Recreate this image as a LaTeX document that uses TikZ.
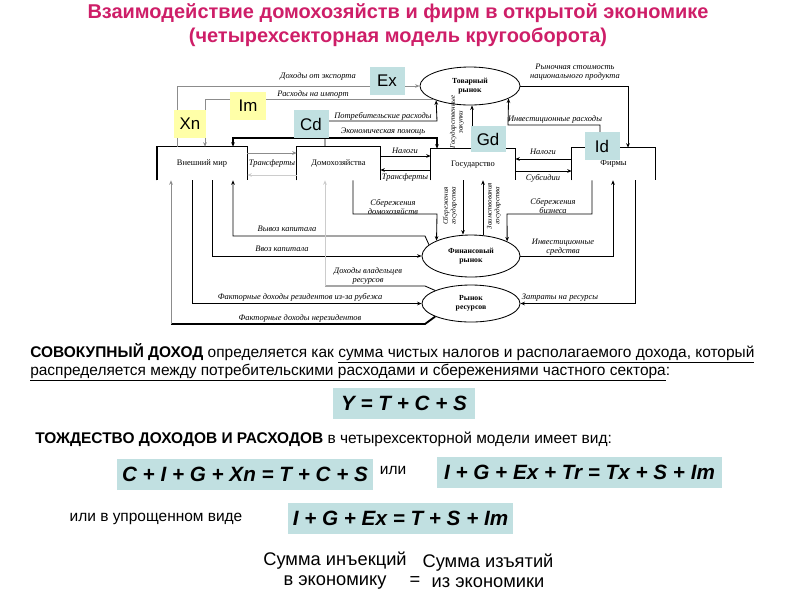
\documentclass[tikz,border=0pt]{standalone}
\usepackage{fontspec}
\setmainfont{Liberation Sans}
\newfontfamily\labelserif{Liberation Serif}
\usetikzlibrary{arrows.meta,shapes.geometric}

\definecolor{titlered}{RGB}{206,30,104}
\definecolor{boxteal}{RGB}{193,224,225}
\definecolor{boxyellow}{RGB}{255,255,168}

\tikzset{
  sector/.style={inner sep=0pt, font=\labelserif\fontsize{6}{7}\selectfont},
  market/.style={ellipse, draw, line width=0.6pt, inner sep=0pt, align=center,
    font=\labelserif\bfseries\fontsize{5.5}{6.5}\selectfont},
  tag/.style={inner sep=0pt, minimum width=0.875cm, minimum height=0.7cm,
    font=\fontsize{12}{14}\selectfont},
  flow/.style={line width=0.6pt, -{Stealth[length=3.2pt,width=2.6pt]}},
  flowgray/.style={flow, draw=black!45},
  flowfaint/.style={flow, draw=black!20},
  lbl/.style={inner sep=0pt, align=center, font=\labelserif\itshape\fontsize{6}{6.5}\selectfont},
  formula/.style={fill=boxteal, inner sep=0pt, minimum height=0.775cm,
    font=\bfseries\itshape\fontsize{14.7}{17}\selectfont},
  body/.style={inner sep=0pt, anchor=base west, font=\fontsize{11}{13}\selectfont},
}

\begin{document}
\begin{tikzpicture}[x=0.025cm, y=-0.025cm]
\useasboundingbox (0,0) rectangle (800,600);

% title
\node[align=center, text=titlered, font=\bfseries\fontsize{14.2}{17}\selectfont] (title) at (398,25)
  {Взаимодействие домохозяйств и фирм в открытой экономике\\(четырехсекторная модель кругооборота)};

% sectors
\node[sector, minimum width=2.25cm, minimum height=0.825cm] (W) at (202,163.5) {Внешний мир};
\node[sector, minimum width=2.075cm, minimum height=0.825cm] (H) at (338.5,163.5) {Домохозяйства};
\node[sector, minimum width=2.1cm, minimum height=0.775cm] (G) at (473,164.5) {Государство};
\node[sector, minimum width=2.075cm, minimum height=0.8cm] (F) at (613.5,164) {Фирмы};
\foreach \s in {W,H,G,F}
  \draw[line width=0.6pt] (\s.south west) |- (\s.north east) -- (\s.south east);
\draw[line width=1.5pt] (W.south west) -- (W.north west);

% markets
\node[market, minimum width=2.5cm, minimum height=0.95cm] (M_g) at (470,86) {Товарный\\рынок};
\node[market, minimum width=2.45cm, minimum height=1.05cm] (M_f) at (471,256) {Финансовый\\рынок};
\node[market, minimum width=2.45cm, minimum height=0.925cm] (M_r) at (471,303.5) {Рынок\\ресурсов};

% columns and rows of the connectors
\foreach \c in {171,177,192,205,212,233,325,353,425,437,463,472,483,507,508,592,600,613,628,635}
  \coordinate (x\c) at (\c,0);
\foreach \r in {121,125,138,153,156,159,170,171,175,214,236,286,324}
  \coordinate (y\r) at (0,\r);

% goods market
\draw[flowgray] (W.north -| x177) |- (M_g.west);
\draw[flowgray] (M_g.200) -| (W.north -| x205);
\draw[flow] (H.north -| x325) |- (x437 |- y121) -- (M_g.203);
\draw[line width=1.3pt, {Stealth[length=3.2pt,width=2.6pt]}-{Stealth[length=3.2pt,width=2.6pt]}]
  (G.north -| x437) -- (x437 |- y138) -| (W.north -| x233);
\draw[flow] (G.north -| x472) -- (M_g.south -| x472);
\draw[flow] (F.north -| x600) |- (x508 |- y125) -- (M_g.342);
\draw[flow] (M_g.east) -| (F.north -| x628);

% between sectors
\draw[flowgray] (W.east |- y153) -- (H.west |- y153);
\draw[flowfaint] (H.west |- y175) -- (W.east |- y175);
\draw[flow] (H.east |- y156) -- (G.west |- y156);
\draw[flow] (G.west |- y170) -- (H.east |- y170);
\draw[flow] (F.west |- y159) -- (G.east |- y159);
\draw[flow] (G.east |- y171) -- (F.west |- y171);

% financial market
\draw[flow] (H.south -| x353) |- (x437 |- y214) -- (M_f.156);
\draw[flow] (G.south -| x463) -- (M_f.north -| x463);
\draw[flow] (M_f.north -| x483) -- (G.south -| x483);
\draw[flow] (F.south -| x592) |- (x507 |- y214) -- (M_f.22);
\draw[flow] (M_f.east) -| (F.south -| x613);
\draw[flow] (M_f.165) -- (x425 |- y236) -| (W.south -| x233);
\draw[flow] (W.south -| x212) |- (M_f.west);

% resource market
\draw[flow] (F.south -| x635) |- (M_r.east);
\draw[flow] (W.south -| x192) |- (M_r.west);
\draw[line width=1.3pt] (M_r.200) -- (x425 |- y324) -- (x171 |- y324);
\draw[flowgray] (x171 |- y324) -- (W.south -| x171);
\draw[line width=0.6pt] (M_r.160) -- (x425 |- y286) -- (x325 |- y286);
\draw[flowfaint] (x325 |- y286) -- (H.south -| x325);

% flow labels
\node[lbl] (l_exp) at (318,76) {Доходы от экспорта};
\node[lbl] (l_imp) at (313,94) {Расходы на импорт};
\node[lbl] (l_cons) at (383,116) {Потребительские расходы};
\node[lbl] (l_aid) at (383,132) {Экономическая помощь};
\node[lbl] (l_taxh) at (405,151) {Налоги};
\node[lbl] (l_trh) at (405,177) {Трансферты};
\node[lbl] (l_trw) at (272,163) {Трансферты};
\node[lbl] (l_taxf) at (543,152) {Налоги};
\node[lbl] (l_sub) at (543,178) {Субсидии};
\node[lbl] (l_val) at (575,72) {Рыночная стоимость\\национального продукта};
\node[lbl] (l_inv) at (555,119) {Инвестиционные расходы};
\node[lbl, rotate=90, font=\labelserif\itshape\fontsize{5}{5.5}\selectfont] (l_gd) at (457,122) {Государственные\\закупки};
\node[lbl] (l_savh) at (393,207) {Сбережения\\домохозяйств};
\node[lbl, rotate=90, font=\labelserif\itshape\fontsize{5}{5.5}\selectfont] (l_savg) at (450,206) {Сбережения\\государства};
\node[lbl, rotate=90, font=\labelserif\itshape\fontsize{5}{5.5}\selectfont] (l_borg) at (494,206) {Заимствования\\государства};
\node[lbl] (l_savb) at (553,206) {Сбережения\\бизнеса};
\node[lbl] (l_out) at (287,229) {Вывоз капитала};
\node[lbl] (l_in) at (282,249) {Ввоз капитала};
\node[lbl] (l_invf) at (563,247) {Инвестиционные\\средства};
\node[lbl] (l_own) at (368,276) {Доходы владельцев\\ресурсов};
\node[lbl] (l_facr) at (300,297) {Факторные доходы резидентов из-за рубежа};
\node[lbl] (l_cost) at (560,298) {Затраты на ресурсы};
\node[lbl] (l_facn) at (300,318) {Факторные доходы нерезидентов};

% tags
\node[tag, fill=boxteal] (ex) at (387,81) {Ex};
\node[tag, fill=boxyellow] (im) at (248,106) {Im};
\node[tag, fill=boxyellow, minimum width=0.8cm] (xn) at (190,124) {Xn};
\node[tag, fill=boxteal] (cd) at (311,124) {Cd};
\node[tag, fill=boxteal, minimum height=0.65cm] (gd) at (488,139) {Gd};
\node[tag, fill=boxteal] (id) at (602,146) {Id};

% text below
\node[body] (agg1) at (30,357) {\textbf{СОВОКУПНЫЙ ДОХОД} определяется как \underline{сумма чистых налогов и располагаемого дохода, который}};
\node[body] (agg2) at (30,375) {\underline{распределяется между потребительскими расходами и сбережениями частного сектора}:};
\node[formula, minimum width=3.55cm] (eq_y) at (404,403.5) {Y = T + C + S};
\node[body] (ident) at (35,443) {\textbf{ТОЖДЕСТВО ДОХОДОВ И РАСХОДОВ} в четырехсекторной модели имеет вид:};
\node[formula, minimum width=6.4cm] (eq_1) at (245,474.5) {C + I + G + Xn = T + C + S};
\node[body, anchor=center] (or_1) at (393,470) {или};
\node[formula, minimum width=7.125cm] (eq_2) at (579.5,472.5) {I + G + Ex + Tr = Tx + S + Im};
\node[body, anchor=center] (or_2) at (156,519) {или в упрощенном виде};
\node[formula, minimum width=5.625cm] (eq_3) at (400.5,518.5) {I + G + Ex = T + S + Im};
\node[align=center, font=\fontsize{13}{14.2}\selectfont] (inj) at (335,571) {Сумма инъекций\\в экономику};
\node[font=\fontsize{13}{14.2}\selectfont] (eqs) at (415,581) {=};
\node[align=center, font=\fontsize{13}{14.2}\selectfont] (wd) at (488,571) {Сумма изъятий\\из экономики};
\end{tikzpicture}
\end{document}
